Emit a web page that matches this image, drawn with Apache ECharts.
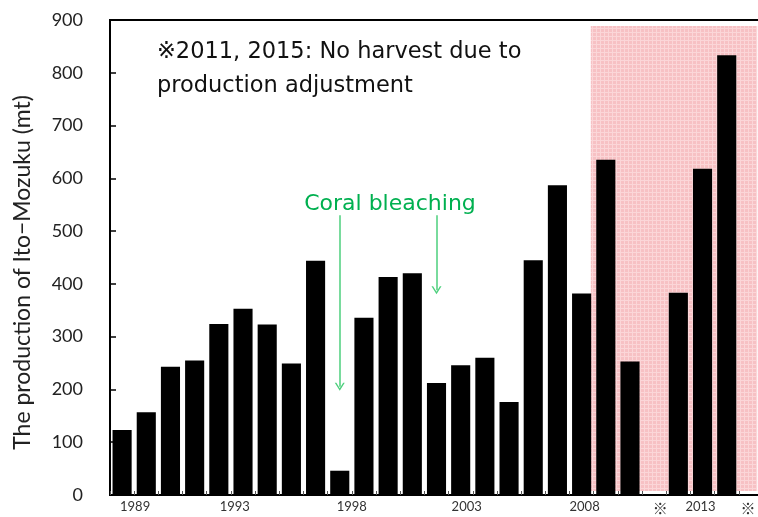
<!DOCTYPE html>
<html>
<head>
<meta charset="utf-8">
<script src="https://cdn.jsdelivr.net/npm/echarts@6/dist/echarts.min.js"></script>
<style>
  html, body { margin: 0; padding: 0; background: #fff; }
  #chart { width: 758px; height: 517px; }
</style>
</head>
<body>
<div id="chart"></div>
<script>
// Annual production of Ito-Mozuku (metric tons), 1989-2015
var years = ['1989','1990','1991','1992','1993','1994','1995','1996','1997','1998',
             '1999','2000','2001','2002','2003','2004','2005','2006','2007','2008',
             '2009','2010','2011','2012','2013','2014','2015'];
var production = [123, 157, 243, 255, 324, 353, 323, 249, 444, 46,
                  336, 413, 420, 212, 246, 260, 176, 445, 587, 382,
                  635, 253, 0, 383, 618, 833, 0];
// Labels shown under the category axis ('' = no label)
var xTickLabels = ['1989','','','','1993','','','','','1998',
                   '','','','','2003','','','','','2008',
                   '','','※','','2013','','※'];
var yTicks = [0, 100, 200, 300, 400, 500, 600, 700, 800, 900];

// Coral bleaching events pointed at by arrows: [year, arrow start, arrow end]
var bleachingArrows = [['1998', 530, 205], ['2002', 530, 388]];
// Shaded period, in category-index units on the helper value axis
var shadedSpan = [19.88, 26.76];
var shadedRange = [7.6, 888.6];

// horizontal nudges (px) for the sparse year labels
var labelShift = {0: 13, 4: 16, 9: 12, 14: 6, 19: 3, 22: 6, 24: -2, 26: -3};

var rich = {};
Object.keys(labelShift).forEach(function (k) {
  var s = labelShift[k];
  var mark = xTickLabels[k] === '※';
  rich['o' + k] = {
    padding: s >= 0 ? [mark ? 1 : 0, 0, 0, 2 * s] : [mark ? 1 : 0, -2 * s, 0, 0],
    fontSize: mark ? 15 : 13,
    lineHeight: mark ? 15 : 14,
    fontFamily: mark ? 'Noto Sans CJK JP' : 'Lato',
    color: '#333'
  };
});

// light pink fill with a fine grid texture
function makePattern() {
  var c = document.createElement('canvas');
  c.width = 4; c.height = 4;
  var g = c.getContext('2d');
  g.fillStyle = '#f7c1c4';
  g.fillRect(0, 0, 4, 4);
  g.fillStyle = '#fbd6d8';
  g.fillRect(0, 0, 4, 1);
  g.fillRect(0, 0, 1, 4);
  return c;
}

// open chevron arrow head, pointing up
var chevron = 'path://M0,10 L5,0 L10,10 L8.4,10 L5,3.2 L1.6,10 Z';

var chart = echarts.init(document.getElementById('chart'), null, { renderer: 'canvas' });

chart.setOption({
  animation: false,
  backgroundColor: '#fff',
  grid: {
    left: 110, top: 20, width: 653, bottom: 22,
    outerBoundsMode: 'none',
    containLabel: false,
    show: true, borderColor: '#000', borderWidth: 2, backgroundColor: 'transparent'
  },
  xAxis: [{
    type: 'category',
    data: years,
    boundaryGap: true,
    axisLine: { lineStyle: { color: '#000', width: 2 } },
    axisTick: { show: true, inside: true, length: 4, lineStyle: { color: '#555', width: 1 } },
    axisLabel: {
      interval: 0,
      margin: 5,
      hideOverlap: false,
      formatter: function (v, i) {
        return xTickLabels[i] ? '{o' + i + '|' + xTickLabels[i] + '}' : '';
      },
      rich: rich
    },
    splitLine: { show: false }
  }, {
    type: 'value',
    min: 0, max: years.length,
    show: false
  }],
  yAxis: {
    type: 'value',
    min: yTicks[0], max: yTicks[yTicks.length - 1], interval: 100,
    name: 'The production of Ito\u2212Mozuku (mt)',
    nameLocation: 'middle',
    nameGap: 76,
    nameTextStyle: { fontFamily: 'Lato', fontSize: 23, color: '#222', padding: [0, 30, 0, 0] },
    axisLine: { show: true, lineStyle: { color: '#000', width: 2 } },
    axisTick: { show: true, inside: true, length: 6, lineStyle: { color: '#000', width: 1.5 } },
    axisLabel: { fontFamily: 'Lato', fontSize: 18, color: '#222', margin: 27 },
    splitLine: { show: false }
  },
  series: [{
    type: 'line',
    xAxisIndex: 1,
    data: [],
    z: 1,
    silent: true,
    markArea: {
      silent: true,
      itemStyle: { color: { image: makePattern(), repeat: 'repeat' } },
      data: [[
        { coord: [shadedSpan[0], shadedRange[1]] },
        { coord: [shadedSpan[1], shadedRange[0]] }
      ]]
    }
  }, {
    type: 'bar',
    data: production,
    barCategoryGap: '21%',
    z: 3,
    itemStyle: { color: '#000' },
    markLine: {
      silent: true,
      symbol: ['none', chevron],
      symbolSize: [10, 8],
      label: { show: false },
      lineStyle: { color: '#4ccf7c', width: 1.5, type: 'solid' },
      data: bleachingArrows.map(function (a) {
        return [{ coord: [a[0], a[1]] }, { coord: [a[0], a[2]] }];
      })
    }
  }],
  graphic: [{
    type: 'text',
    left: 157, top: 35,
    style: {
      text: '※2011, 2015: No harvest due to\nproduction adjustment',
      font: '22.5px "DejaVu Sans"',
      lineHeight: 34,
      fill: '#111'
    }
  }, {
    type: 'text',
    x: 390, y: 204,
    style: {
      text: 'Coral bleaching',
      font: '22px "DejaVu Sans"',
      fill: '#00b050',
      textAlign: 'center',
      textVerticalAlign: 'middle'
    }
  }]
});
</script>
</body>
</html>
